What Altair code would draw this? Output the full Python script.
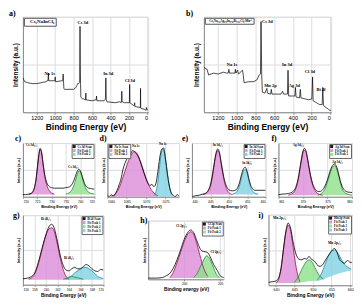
import altair as alt
import pandas as pd

FONT = "Liberation Serif"
PINK, GREEN, CYAN = "#dc8cd8", "#8fe08b", "#80d2e4"
PINK_E, GREEN_E, CYAN_E = "#a0124e", "#2b8a3e", "#2a8ca0"

# ---------------- survey spectra ----------------
SURVEY_TICKS = [1200, 1000, 800, 600, 400, 200, 0]
A_X = [1350, 1340, 1330, 1300, 1250, 1200, 1150, 1100, 1085, 1078, 1074, 1070, 1010, 1004, 1000, 996, 925, 918, 914, 910,
       906, 900, 850, 800, 775, 765, 755, 745, 735, 731, 728, 725, 722, 715, 705, 690, 675, 671, 668, 665,
       600, 560, 556, 552, 548, 470, 460, 455, 451, 447, 440, 350, 300, 285, 281, 278, 275, 250, 200, 196,
       193, 190, 150, 142, 139, 136, 80, 77, 75, 73, 70, 30, 15, 11, 8, 5, -8]
A_Y = [0.36, 0.34, 0.32, 0.31, 0.30, 0.30, 0.31, 0.32, 0.33, 0.33, 0.41, 0.33, 0.33, 0.33, 0.37, 0.32, 0.33, 0.33, 0.40, 0.33,
       0.25, 0.24, 0.24, 0.24, 0.26, 0.28, 0.30, 0.30, 0.31, 0.90, 0.50, 0.30, 0.16, 0.15, 0.14, 0.14, 0.13, 0.13, 0.20, 0.13,
       0.12, 0.13, 0.13, 0.17, 0.12, 0.12, 0.13, 0.15, 0.36, 0.14, 0.11, 0.10, 0.11, 0.10, 0.12, 0.22, 0.11, 0.10, 0.10, 0.10,
       0.29, 0.10, 0.07, 0.07, 0.10, 0.06, 0.05, 0.05, 0.25, 0.05, 0.04, 0.03, 0.02, 0.05, 0.03, 0.03, 0.02]
A_NAME = "Cs₂NaInCl₆"
A_LBL = ["Na 1s", "Cs 3d", "In 3d", "Cl 3d"]
A_LBL_X = [1060, 700, 425, 190]
A_LBL_Y = [0.40, 0.94, 0.40, 0.33]

B_X = [1350, 1316, 1299, 1247, 1196, 1144, 1110, 1090, 1083, 1076, 1041, 1018, 1014, 1007, 990, 980, 938, 931, 921, 870,
       818, 784, 760, 746, 740, 733, 726, 699, 678, 671, 637, 630, 623, 561, 527, 510, 499, 465, 458, 452,
       445, 407, 379, 373, 366, 329, 321, 314, 270, 236, 198, 190, 184, 149, 115, 88, 81, 74, 46, 19, 5, -8]
B_Y = [0.47, 0.45, 0.39, 0.41, 0.40, 0.42, 0.41, 0.41, 0.45, 0.41, 0.41, 0.41, 0.45, 0.41, 0.44, 0.40, 0.44, 0.40, 0.31, 0.32,
       0.32, 0.34, 0.39, 0.40, 0.95, 0.40, 0.21, 0.20, 0.25, 0.20, 0.19, 0.24, 0.19, 0.19, 0.19, 0.22, 0.19, 0.19, 0.19, 0.44,
       0.17, 0.17, 0.17, 0.26, 0.16, 0.15, 0.24, 0.15, 0.14, 0.13, 0.14, 0.37, 0.12, 0.10, 0.08, 0.08, 0.26, 0.07, 0.05, 0.03,
       0.02, 0.02]
B_NAME = "Cs₂Na₀.₄Ag₀.₆In₀.₉₉Bi₀.₀₁Cl₆:Mn²⁺"
B_LBL = ["Na 1s", "Cs 3d", "Mn 2p", "In 3d", "Ag 3d", "Cl 3d", "Bi 4f"]
B_LBL_X = [1050, 672, 640, 462, 385, 218, 100]
B_LBL_Y = [0.50, 0.95, 0.28, 0.50, 0.27, 0.42, 0.23]

# ---------------- high-resolution spectra ----------------
C_SX = [720, 721, 722, 723, 723.5, 724, 724.5, 725, 725.5, 726, 726.5, 727, 727.5, 728, 728.5, 729, 730, 731, 732, 733,
        734, 735, 736, 737, 737.5, 738, 738.5, 739, 739.5, 740, 740.5, 741, 741.5, 742, 743, 744, 745]
C_SY = [0.04, 0.04, 0.05, 0.07, 0.10, 0.17, 0.30, 0.52, 0.76, 0.90, 0.84, 0.64, 0.45, 0.32, 0.24, 0.20, 0.17, 0.16, 0.16, 0.16,
        0.16, 0.17, 0.18, 0.22, 0.27, 0.33, 0.41, 0.48, 0.51, 0.49, 0.42, 0.33, 0.25, 0.20, 0.16, 0.15, 0.14]
C_P1X = [722, 723, 723.5, 724, 724.5, 725, 725.5, 726, 726.5, 727, 727.5, 728, 728.5, 729, 730, 731]
C_P1Y = [0.04, 0.06, 0.09, 0.15, 0.28, 0.50, 0.74, 0.88, 0.82, 0.61, 0.42, 0.28, 0.19, 0.13, 0.07, 0.05]
C_P2X = [735, 736, 737, 737.5, 738, 738.5, 739, 739.5, 740, 740.5, 741, 741.5, 742, 743, 744, 745]
C_P2Y = [0.05, 0.07, 0.12, 0.17, 0.24, 0.33, 0.42, 0.48, 0.47, 0.40, 0.30, 0.21, 0.15, 0.08, 0.06, 0.05]

D_SX = [1060, 1060.5, 1061, 1061.5, 1062, 1062.5, 1063, 1063.5, 1064, 1064.5, 1065, 1065.5, 1066, 1066.5, 1067, 1067.5,
        1068, 1068.5, 1069, 1069.5, 1070, 1070.5, 1071, 1071.5, 1072, 1072.5, 1073, 1073.5, 1074, 1074.5, 1075, 1075.5,
        1076, 1076.5, 1077, 1077.5, 1078, 1078.5]
D_SY = [0.03, 0.00, 0.04, 0.01, 0.05, 0.12, 0.22, 0.33, 0.50, 0.62, 0.70, 0.76, 0.80, 0.86, 0.84, 0.80,
        0.74, 0.65, 0.54, 0.43, 0.33, 0.25, 0.21, 0.23, 0.19, 0.24, 0.45, 0.72, 0.88, 0.91, 0.70, 0.42,
        0.20, 0.07, 0.03, 0.00, 0.04, 0.01]
D_P1X = [1061, 1062, 1063, 1064, 1065, 1066, 1066.5, 1067, 1067.5, 1068, 1069, 1070, 1071, 1072, 1073]
D_P1Y = [0.01, 0.05, 0.16, 0.36, 0.58, 0.76, 0.82, 0.84, 0.82, 0.76, 0.56, 0.34, 0.17, 0.07, 0.02]
D_P2X = [1072, 1072.5, 1073, 1073.5, 1074, 1074.3, 1074.6, 1075, 1075.5, 1076, 1076.5, 1077]
D_P2Y = [0.02, 0.08, 0.26, 0.58, 0.84, 0.89, 0.86, 0.72, 0.45, 0.20, 0.07, 0.02]

E_SX = [440, 441, 442, 443, 444, 444.5, 445, 445.5, 446, 446.5, 447, 447.5, 448, 448.5, 449, 449.5, 450, 451, 452, 452.5,
        453, 453.5, 454, 454.5, 455, 455.5, 456, 456.5, 457, 458, 459, 460]
E_SY = [0.00, 0.02, 0.03, 0.05, 0.08, 0.13, 0.22, 0.38, 0.60, 0.80, 0.89, 0.82, 0.62, 0.42, 0.27, 0.18, 0.13, 0.11, 0.13, 0.18,
        0.28, 0.42, 0.52, 0.55, 0.47, 0.33, 0.21, 0.15, 0.12, 0.12, 0.12, 0.12]
E_P1X = [443, 444, 444.5, 445, 445.5, 446, 446.5, 447, 447.5, 448, 448.5, 449, 449.5, 450, 451]
E_P1Y = [0.04, 0.07, 0.11, 0.19, 0.35, 0.57, 0.77, 0.86, 0.79, 0.59, 0.39, 0.23, 0.13, 0.08, 0.04]
E_P2X = [451, 452, 452.5, 453, 453.5, 454, 454.5, 455, 455.5, 456, 456.5, 457, 458]
E_P2Y = [0.05, 0.08, 0.13, 0.22, 0.36, 0.47, 0.51, 0.44, 0.30, 0.17, 0.10, 0.07, 0.05]

F_SX = [365, 366, 367, 368, 368.5, 369, 369.5, 370, 370.3, 370.6, 371, 371.5, 372, 372.5, 373, 373.5, 374, 374.5, 375, 375.5,
        376, 376.4, 376.8, 377.2, 377.6, 378, 378.5, 379, 380]
F_SY = [0.04, 0.05, 0.06, 0.10, 0.17, 0.33, 0.60, 0.85, 0.90, 0.86, 0.68, 0.42, 0.24, 0.14, 0.10, 0.10, 0.13, 0.20, 0.32, 0.47,
        0.58, 0.61, 0.57, 0.45, 0.30, 0.19, 0.12, 0.09, 0.08]
F_P1X = [367, 368, 368.5, 369, 369.5, 370, 370.3, 370.6, 371, 371.5, 372, 372.5, 373, 374]
F_P1Y = [0.03, 0.07, 0.14, 0.30, 0.57, 0.82, 0.87, 0.84, 0.66, 0.40, 0.21, 0.11, 0.06, 0.03]
F_P2X = [373, 374, 374.5, 375, 375.5, 376, 376.4, 376.8, 377.2, 377.6, 378, 378.5, 379, 380]
F_P2Y = [0.03, 0.08, 0.15, 0.28, 0.43, 0.55, 0.58, 0.54, 0.42, 0.27, 0.15, 0.08, 0.05, 0.03]

G_SX = [156, 156.5, 157, 157.5, 158, 158.5, 159, 159.5, 160, 160.5, 161, 161.5, 162, 162.5, 163, 163.5, 164, 164.5, 165,
        165.5, 166, 166.5, 167, 167.5, 168, 168.5, 169, 169.5, 170]
G_SY = [0.086, 0.09, 0.10, 0.12, 0.16, 0.27, 0.42, 0.58, 0.72, 0.83, 0.87, 0.80, 0.62, 0.42, 0.28, 0.21, 0.20, 0.23, 0.25,
        0.23, 0.23, 0.26, 0.29, 0.27, 0.23, 0.20, 0.19, 0.22, 0.21]
G_P1X = [157, 157.5, 158, 158.5, 159, 159.5, 160, 160.5, 161, 161.5, 162, 162.5, 163, 163.5, 164]
G_P1Y = [0.08, 0.10, 0.15, 0.25, 0.39, 0.56, 0.71, 0.80, 0.82, 0.75, 0.58, 0.38, 0.22, 0.12, 0.08]
G_P2X = [163, 163.5, 164, 164.5, 165, 165.5, 166, 166.5]
G_P2Y = [0.08, 0.09, 0.11, 0.12, 0.11, 0.10, 0.09, 0.08]
G_P3X = [163.5, 164, 164.5, 165, 165.5, 166, 166.5, 167, 167.5, 168, 168.5, 169, 169.5, 170]
G_P3Y = [0.08, 0.10, 0.13, 0.17, 0.20, 0.23, 0.25, 0.25, 0.23, 0.20, 0.16, 0.12, 0.10, 0.09]

H_SX = [195, 196, 197, 197.5, 198, 198.5, 199, 199.5, 200, 200.5, 200.9, 201.3, 201.7, 202.1, 202.5, 202.9, 203.3, 203.7,
        204.1, 204.6, 205, 205.5]
H_SY = [0.02, 0.02, 0.03, 0.06, 0.10, 0.19, 0.33, 0.50, 0.68, 0.80, 0.84, 0.80, 0.68, 0.55, 0.48, 0.47, 0.45, 0.36,
        0.25, 0.15, 0.06, 0.03]
H_P1X = [198, 198.5, 199, 199.5, 200, 200.5, 200.9, 201.3, 201.7, 202.1, 202.5, 202.9, 203.3]
H_P1Y = [0.03, 0.12, 0.28, 0.46, 0.64, 0.77, 0.81, 0.77, 0.63, 0.45, 0.27, 0.13, 0.05]
H_P2X = [201.3, 201.7, 202.1, 202.5, 202.9, 203.1, 203.3, 203.7, 204.1, 204.5, 204.9]
H_P2Y = [0.03, 0.08, 0.17, 0.28, 0.37, 0.40, 0.39, 0.31, 0.19, 0.08, 0.03]

I_SX = [638, 639, 640, 640.7, 641.4, 642, 642.6, 643.3, 644, 644.6, 645.3, 646.2, 647, 647.6, 648.3, 648.9, 649.5, 650.2,
        651, 651.5, 652.1, 652.7, 653.5, 654.5, 655.2, 655.8, 656.5, 657.1, 657.8, 658.4, 659.3, 660.2, 660.5]
I_SY = [0.04, 0.05, 0.06, 0.10, 0.25, 0.50, 0.74, 0.88, 0.80, 0.62, 0.46, 0.37, 0.36, 0.38, 0.37, 0.41, 0.37, 0.35,
        0.30, 0.27, 0.27, 0.30, 0.37, 0.45, 0.50, 0.52, 0.46, 0.37, 0.33, 0.31, 0.35, 0.32, 0.33]
I_P1X = [640, 640.7, 641.4, 642, 642.6, 643.3, 644, 644.6, 645.3, 646, 646.5]
I_P1Y = [0.03, 0.08, 0.24, 0.49, 0.72, 0.85, 0.76, 0.55, 0.30, 0.12, 0.05]
I_P2X = [645, 645.8, 646.5, 647.2, 648, 648.9, 649.7, 650.5, 651.3, 652, 652.8]
I_P2Y = [0.04, 0.10, 0.17, 0.25, 0.32, 0.36, 0.33, 0.25, 0.17, 0.12, 0.09]
I_P2B = [0.03, 0.035, 0.04, 0.045, 0.05, 0.055, 0.06, 0.065, 0.07, 0.075, 0.08]
I_P3X = [651, 651.9, 652.7, 653.5, 654.3, 655, 655.8, 656.5, 657.3, 658, 658.8, 659.5, 660.2]
I_P3Y = [0.07, 0.13, 0.22, 0.33, 0.43, 0.48, 0.50, 0.47, 0.40, 0.33, 0.28, 0.25, 0.23]
I_P3B = [0.06, 0.07, 0.085, 0.10, 0.115, 0.13, 0.145, 0.16, 0.17, 0.18, 0.19, 0.20, 0.21]


def panel_label(text, px, py):
    """Panel letter drawn as a text mark just outside the plot frame (pixel offsets)."""
    return alt.Chart(pd.DataFrame({"t": [text]})).mark_text(
        font=FONT, fontWeight="bold", fontSize=8, color="black", align="left", baseline="middle"
    ).encode(text="t:N", x=alt.value(px), y=alt.value(py))


def survey(xs, ys, name, lt, lx, ly, w, h, label, lpx, lpy, legend_fs):
    df = pd.DataFrame({"x": xs, "y": ys, "s": [name] * len(xs)})
    ann = pd.DataFrame({"x": lx, "y": ly, "t": lt})
    xenc = alt.X("x:Q", scale=alt.Scale(domain=[-8, 1350], reverse=True, nice=False, zero=False),
                 axis=alt.Axis(values=SURVEY_TICKS, format="d", title="Binding Energy (eV)", labelFontSize=5.5,
                               titleFontSize=8.5, tickSize=2, labelPadding=1, titlePadding=2))
    yenc = alt.Y("y:Q", scale=alt.Scale(domain=[0, 1], nice=False, zero=False),
                 axis=alt.Axis(title="Intensity (a.u.)", labels=False, ticks=False, titleFontSize=6.5,
                               titlePadding=4))
    line = alt.Chart(df).mark_line(strokeWidth=0.7, clip=True).encode(
        x=xenc, y=yenc,
        color=alt.Color("s:N", scale=alt.Scale(domain=[name], range=["black"]),
                        legend=alt.Legend(title=None, orient="top-left", symbolOpacity=0, symbolSize=0,
                                          symbolStrokeWidth=0, labelFontSize=legend_fs, labelFont=FONT,
                                          labelFontWeight="bold", labelColor="black", fillColor="white",
                                          strokeColor="#555", padding=1.2, offset=1, labelOffset=0,
                                          labelLimit=400)))
    text = alt.Chart(ann).mark_text(font=FONT, fontWeight="bold", fontSize=4.5, color="black").encode(
        x=xenc, y=yenc, text="t:N")
    return alt.layer(line, text, panel_label(label, lpx, lpy)).properties(width=w, height=h)


def fit_panel(scan_name, sx, sy, peaks, lt, lx, ly, domain, ticks, w, h, label, lpx, lpy,
              orient="top-right", xtitle="Binding Energy (eV)", lab_fs=3.3, tit_fs=3.8, ann_fs=3.2):
    rows = []
    for pname, xs, ys, base, fill, edge in peaks:
        bs = base if isinstance(base, list) else [base] * len(xs)
        for a, b, c in zip(xs, ys, bs):
            rows.append({"x": a, "y": b, "y0": c, "s": pname})
    pdf = pd.DataFrame(rows)
    sdf = pd.DataFrame({"x": sx, "y": sy, "s": [scan_name] * len(sx)})
    ann = pd.DataFrame({"x": lx, "y": ly, "t": lt})
    pnames = [p[0] for p in peaks]
    cscale = alt.Scale(domain=[scan_name] + pnames, range=["black"] + [p[4] for p in peaks])
    escale = alt.Scale(domain=pnames, range=[p[5] for p in peaks])
    legend = alt.Legend(title=None, orient=orient, symbolType="square", symbolSize=9, labelFontSize=3,
                        labelFont=FONT, labelFontWeight="bold", labelColor="black", fillColor="white",
                        strokeColor="#666", padding=1, offset=1, rowPadding=0, labelOffset=2,
                        symbolStrokeWidth=0, symbolOpacity=0.9)
    xenc = alt.X("x:Q", scale=alt.Scale(domain=domain, nice=False, zero=False),
                 axis=alt.Axis(values=ticks, format="d", title=xtitle, labelFontSize=lab_fs, titleFontSize=tit_fs,
                               tickSize=1.5, labelPadding=1.2, titlePadding=1.5))
    yenc = alt.Y("y:Q", stack=None, scale=alt.Scale(domain=[0, 1], nice=False, zero=False),
                 axis=alt.Axis(title="Intensity (a.u.)", labels=False, ticks=False, titleFontSize=3.8,
                               titlePadding=2))
    area = alt.Chart(pdf).mark_area(opacity=0.8, interpolate="monotone", clip=True).encode(
        x=xenc, y=yenc, y2="y0:Q", color=alt.Color("s:N", scale=cscale, legend=legend))
    edges = alt.Chart(pdf).mark_line(strokeWidth=0.8, interpolate="monotone", clip=True).encode(
        x=xenc, y=yenc, stroke=alt.Stroke("s:N", scale=escale, legend=None))
    scan = alt.Chart(sdf).mark_line(strokeWidth=0.8, interpolate="monotone", clip=True).encode(
        x=xenc, y=yenc, color=alt.Color("s:N", scale=cscale, legend=legend))
    text = alt.Chart(ann).mark_text(font=FONT, fontWeight="bold", fontSize=ann_fs, color="black").encode(
        x=xenc, y=yenc, text="t:N")
    return alt.layer(area, edges, scan, text, panel_label(label, lpx, lpy)).properties(width=w, height=h)


pa = survey(A_X, A_Y, A_NAME, A_LBL, A_LBL_X, A_LBL_Y, 126, 96, "a)", -14, -3, 5)
pb = survey(B_X, B_Y, B_NAME, B_LBL, B_LBL_X, B_LBL_Y, 128, 96, "b)", -18, -3, 3.2)

pc = fit_panel("Cs 3d Scan", C_SX, C_SY,
               [("Fit Peak 1", C_P1X, C_P1Y, 0.04, PINK, PINK_E), ("Fit Peak 2", C_P2X, C_P2Y, 0.04, GREEN, GREEN_E)],
               ["Cs 3d₅/₂", "Cs 3d₃/₂"], [722.9, 737.6], [0.97, 0.56],
               [720, 745], [720, 725, 730, 735, 740, 745], 72, 54, "c)", -8, -4)
pd_ = fit_panel("Na 1s Scan", D_SX, D_SY,
                [("Fit Peak 1", D_P1X, D_P1Y, 0.0, PINK, PINK_E), ("Fit Peak 2", D_P2X, D_P2Y, 0.0, CYAN, CYAN_E)],
                ["Na 1s", "Na 1s"], [1067.3, 1074.3], [0.94, 0.99],
                [1060, 1078.5], [1060, 1065, 1070, 1075], 72, 54, "d)", -8, -4, orient="top-left")
pe = fit_panel("In 3d Scan", E_SX, E_SY,
               [("Fit Peak 1", E_P1X, E_P1Y, 0.04, PINK, PINK_E), ("Fit Peak 2", E_P2X, E_P2Y, 0.04, CYAN, CYAN_E)],
               ["In 3d₅/₂", "In 3d₃/₂"], [447, 455], [0.96, 0.62],
               [440, 460], [440, 445, 450, 455, 460], 74, 54, "e)", -10, -4)
pf = fit_panel("Ag 3d Scan", F_SX, F_SY,
               [("Fit Peak 1", F_P1X, F_P1Y, 0.03, PINK, PINK_E), ("Fit Peak 2", F_P2X, F_P2Y, 0.03, GREEN, GREEN_E)],
               ["Ag 3d₅/₂", "Ag 3d₃/₂"], [369, 377], [0.96, 0.64],
               [365, 380], [365, 370, 375, 380], 74, 54, "f)", -7, -4)

pg = fit_panel("Bi 4f Scan", G_SX, G_SY,
               [("Fit Peak 1", G_P1X, G_P1Y, 0.07, PINK, PINK_E), ("Fit Peak 2", G_P2X, G_P2Y, 0.07, GREEN, GREEN_E),
                ("Fit Peak 3", G_P3X, G_P3Y, 0.07, CYAN, CYAN_E)],
               ["Bi 4f₇/₂", "Bi 4f₅/₂"], [160.0, 164.0], [0.94, 0.38],
               [156, 170], [156, 158, 160, 162, 164, 166, 168, 170], 81, 70, "g)", -10, 1,
               lab_fs=3.3, tit_fs=4.8, ann_fs=3.4)
ph = fit_panel("Cl 2p Scan", H_SX, H_SY,
               [("Fit Peak 1", H_P1X, H_P1Y, 0.02, PINK, PINK_E), ("Fit Peak 2", H_P2X, H_P2Y, 0.02, GREEN, GREEN_E)],
               ["Cl 2p₃/₂", "Cl 2p₁/₂"], [199.6, 204.4], [0.90, 0.47],
               [195, 205.5], [200, 205], 76, 59, "h)", -8, 0, xtitle="Binding energy (eV)",
               lab_fs=3.3, tit_fs=4.8, ann_fs=3.4)
pi = fit_panel("Mn 2p Scan", I_SX, I_SY,
               [("Fit Peak 1", I_P1X, I_P1Y, 0.03, PINK, PINK_E), ("Fit Peak 2", I_P2X, I_P2Y, I_P2B, GREEN, GREEN_E),
                ("Fit Peak 3", I_P3X, I_P3Y, I_P3B, CYAN, CYAN_E)],
               ["Mn 2p₃/₂", "Mn 2p₁/₂"], [641.0, 655.8], [0.95, 0.60],
               [638, 660.5], [640, 645, 650, 655, 660], 84, 71, "i)", -10, 1,
               lab_fs=3.6, tit_fs=5, ann_fs=3.6)


def row(charts, spacing, center=False):
    r = alt.hconcat(*charts, spacing=spacing, bounds="flush", center=center)
    return r.resolve_scale(color="independent", stroke="independent", x="independent",
                           y="independent").resolve_legend(color="independent")


row1 = row([pa, pb], 56)
row2 = row([pc, pd_, pe, pf], 13)
row3 = row([pg, ph, pi], 45, center=True)

chart = alt.vconcat(row1, row2, row3, spacing=2).resolve_scale(
    color="independent", stroke="independent", x="independent", y="independent"
).resolve_legend(color="independent").properties(padding=0).configure_view(
    stroke="black", strokeWidth=1
).configure_axis(
    domain=False, grid=False, labelFont=FONT, titleFont=FONT, labelFontWeight="bold", titleFontWeight="bold",
    tickColor="black", labelColor="black", titleColor="black", tickWidth=0.8
).configure(background="white")

chart.save("out.html", embed_options={"renderer": "svg", "actions": False})
